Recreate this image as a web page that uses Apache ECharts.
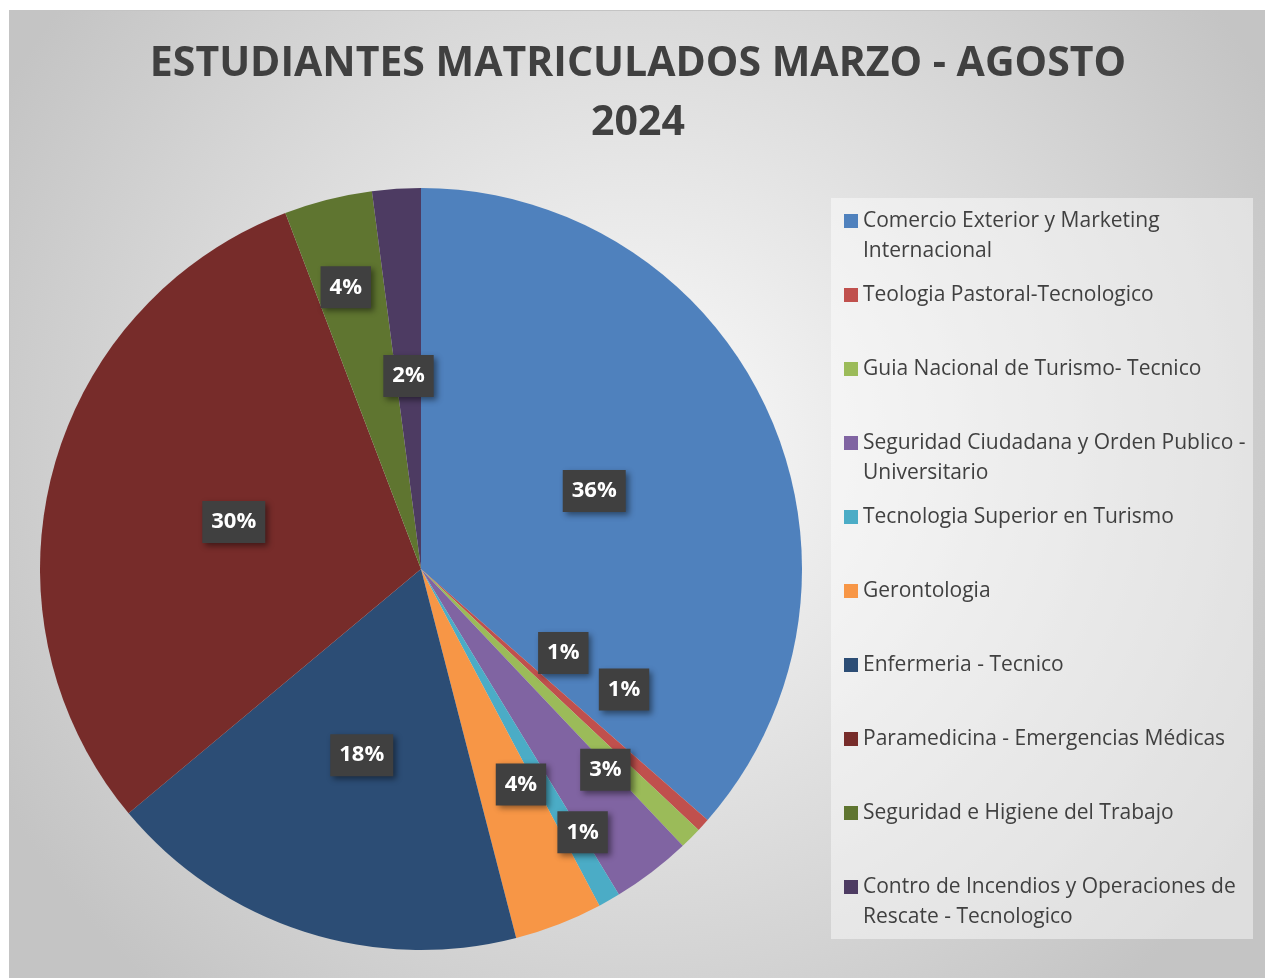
<!DOCTYPE html>
<html>
<head>
<meta charset="utf-8">
<script src="https://cdn.jsdelivr.net/npm/echarts@6/dist/echarts.min.js"></script>
<style>
  html, body { margin: 0; padding: 0; background: #ffffff; }
  #chart {
    position: absolute; left: 9px; top: 10px;
    width: 1256px; height: 968px;
    border-left: 1px solid #c4c4c4; border-top: 1px solid #c4c4c4;
  }
</style>
</head>
<body>
<div id="chart"></div>
<script>
// datos: estudiantes matriculados por carrera
const carreras = [
    'Comercio Exterior y Marketing Internacional',
    'Teologia Pastoral-Tecnologico',
    'Guia Nacional de Turismo- Tecnico',
    'Seguridad Ciudadana y Orden Publico - Universitario',
    'Tecnologia Superior en Turismo',
    'Gerontologia',
    'Enfermeria - Tecnico',
    'Paramedicina - Emergencias Médicas',
    'Seguridad e Higiene del Trabajo',
    'Contro de Incendios y Operaciones de Rescate - Tecnologico'
];
const estudiantes = [195, 3, 5, 18, 5, 20, 96, 162, 20, 11];

const colores = ['#4f81bd', '#c0504d', '#9bbb59', '#8064a2', '#4bacc6',
    '#f79646', '#2c4d75', '#772c2a', '#5f7530', '#4d3b62'];

// ajuste manual de etiquetas (como "mejor ajuste" de Excel)
const ajusteEtiqueta = [[-3, 2], [-1, -46], [66, -16], [67, 47], [66, 95],
    [30, 35], [0, 2], [0, 2], [-28, -94], [0, 0]];

const total = estudiantes.reduce((a, b) => a + b, 0);
const fuente = '"Open Sans", "Noto Sans", sans-serif';
const legendFont = 21;
const legendLine = 30;
const legendWrap = 395;

// medir si el texto de la leyenda ocupa 2 lineas
const ctx = document.createElement('canvas').getContext('2d');
ctx.font = legendFont + 'px "Open Sans"';
const lineas = carreras.map(n => ctx.measureText(n).width > legendWrap ? 2 : 1);

// cuadrado arriba + punto invisible abajo: el icono queda en la primera linea
const iconoAlto = 14 + legendLine;
const iconoDosLineas = 'path://M0,0h14v14h-14zM0,' + iconoAlto + 'L0.01,' + iconoAlto;

const chart = echarts.init(document.getElementById('chart'));

// una leyenda por elemento, con paso fijo de 74px
const legends = carreras.map((name, i) => ({
    orient: 'vertical',
    left: 834,
    top: 210 + i * 74 - legendLine / 2,
    padding: 0,
    itemWidth: 14,
    itemHeight: lineas[i] > 1 ? iconoAlto : 14,
    itemGap: 0,
    icon: lineas[i] > 1 ? iconoDosLineas : 'rect',
    symbolKeepAspect: false,
    selectedMode: false,
    data: [name],
    textStyle: {
        fontFamily: fuente,
        fontSize: legendFont,
        color: '#404040',
        lineHeight: legendLine,
        width: legendWrap,
        overflow: 'break'
    }
}));

const option = {
    backgroundColor: new echarts.graphic.RadialGradient(0.5, 0.45, 0.75, [
        { offset: 0, color: '#fbfbfb' },
        { offset: 1, color: '#c4c4c4' }
    ]),
    animation: false,
    color: colores,
    title: {
        text: 'ESTUDIANTES MATRICULADOS MARZO - AGOSTO\n2024',
        left: 'center',
        top: 24,
        padding: 0,
        textStyle: {
            fontFamily: fuente,
            fontWeight: 'bold',
            fontSize: 41,
            lineHeight: 59,
            color: '#404040'
        }
    },
    graphic: [{
        type: 'rect',
        z: -1,
        shape: { x: 821, y: 187, width: 422, height: 741 },
        style: { fill: 'rgba(255,255,255,0.45)' }
    }],
    legend: legends,
    series: [{
        type: 'pie',
        center: [411, 558],
        radius: 381,
        startAngle: 90,
        clockwise: true,
        avoidLabelOverlap: false,
        itemStyle: { borderWidth: 0 },
        label: {
            position: 'inside',
            formatter: p => Math.round(p.value / total * 100) + '%',
            fontFamily: fuente,
            fontWeight: 'bold',
            fontSize: 22,
            color: '#ffffff',
            backgroundColor: '#404040',
            padding: [11, 9, 9, 9],
            shadowColor: 'rgba(0,0,0,0.45)',
            shadowBlur: 6,
            shadowOffsetX: 3,
            shadowOffsetY: 3
        },
        labelLine: { show: false },
        emphasis: { disabled: true },
        data: carreras.map((name, i) => ({
            name,
            value: estudiantes[i],
            label: { offset: ajusteEtiqueta[i] }
        }))
    }]
};

chart.setOption(option);
</script>
</body>
</html>
